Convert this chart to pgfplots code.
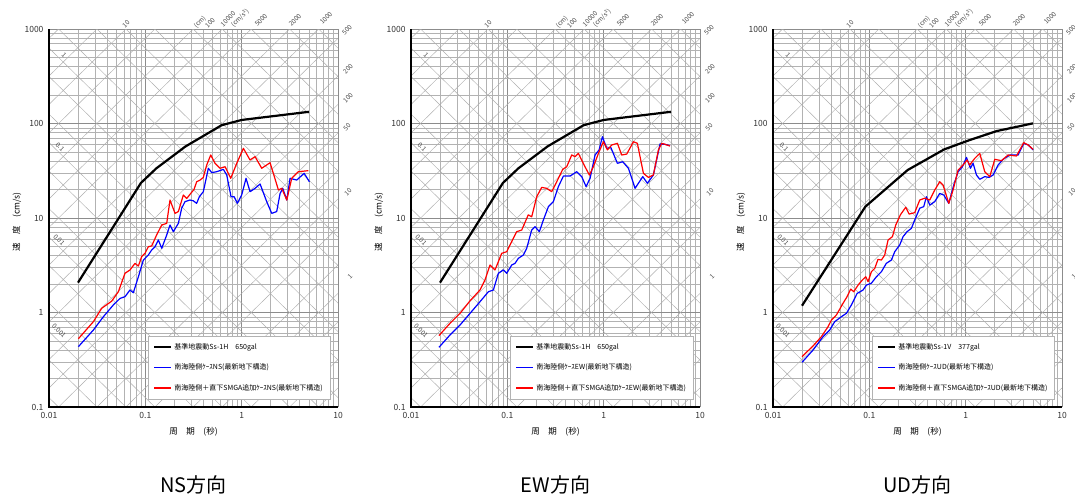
\documentclass[border=0pt]{standalone}
\usepackage{fontspec}
\setmainfont{Noto Sans CJK JP}
\usepackage{pgfplots}
\pgfplotsset{compat=1.18}

\tikzset{diagline/.style={black!32, line width=0.45pt}}

% displacement line: d = log10(2 pi D); acceleration line: a = log10(A/(2 pi))
\newcommand\dline[1]{%
 \pgfmathsetmacro\ya{((#1)+3)/4}\pgfmathsetmacro\yb{(#1)/4}%
 \edef\tmp{\noexpand\draw[diagline] (rel axis cs:0,\ya) -- (rel axis cs:1,\yb);}\tmp}
\newcommand\aline[1]{%
 \pgfmathsetmacro\ya{((#1)-1)/4}\pgfmathsetmacro\yb{((#1)+2)/4}%
 \edef\tmp{\noexpand\draw[diagline] (rel axis cs:0,\ya) -- (rel axis cs:1,\yb);}\tmp}
\newcommand\diaglines{%
 \pgfplotsforeachungrouped \k in {-4,-3,-2,-1,0,1,2,3}{%
   \dline{\k+0.79818}\dline{\k+1.09921}\dline{\k+1.49715}}%
 \pgfplotsforeachungrouped \k in {-2,-1,0,1,2,3,4,5}{%
   \aline{\k-0.79818}\aline{\k-0.49715}\aline{\k-0.09921}}%
}

\pgfplotsset{
  width=289pt,height=378pt,scale only axis,
  xmin=0.01,xmax=10,ymin=0.1,ymax=1000,
  xtick={0.01,0.1,1,10}, xticklabels={0.01,0.1,1,10},
  ytick={0.1,1,10,100,1000}, yticklabels={0.1,1,10,100,1000},
  grid=both, major grid style={black!45,line width=0.5pt},
  minor grid style={black!30,line width=0.45pt},
  tick style={draw=none},
  axis line style={draw=none},
  ticklabel style={font=\fontsize{8.5}{10}\selectfont, text=black!80},
  xticklabel style={yshift=-2pt}, yticklabel style={xshift=-2pt},
  legend cell align=left,
  legend style={at={(0.3426,0.0212)}, anchor=south west, draw=black!30, fill=white,
    font=\fontsize{7}{8}\selectfont, row sep=9pt, inner xsep=5pt, inner ysep=5pt},
}

\newcommand\legendrows[3]{%
 \addlegendimage{black, line width=2.2pt}\addlegendentry{\makebox[148pt][l]{#1}}
 \addlegendimage{blue, line width=1.4pt}\addlegendentry{#2}
 \addlegendimage{red, line width=1.4pt}\addlegendentry{#3}}

\newcommand\plabels{%
 \begin{scope}[every node/.style={font=\fontsize{6.5}{7}\selectfont, text=black!70, inner sep=0pt}]
 \node[rotate=-45] at (64pt,440pt) {1};
 \node[rotate=-45] at (60pt,348pt) {0.1};
 \node[rotate=-45] at (59pt,255pt) {0.01};
 \node[rotate=-45] at (59pt,164pt) {0.001};
 \node[rotate=45] at (126pt,471pt) {10};
 \node[rotate=45] at (200pt,473pt) {(cm)};
 \node[rotate=45] at (210pt,472pt) {100};
 \node[rotate=45] at (228pt,476pt) {10000};
 \node[rotate=45] at (240pt,477pt) {(cm/s²)};
 \node[rotate=45] at (261pt,475pt) {5000};
 \node[rotate=45] at (295pt,475pt) {2000};
 \node[rotate=45] at (326pt,477pt) {1000};
 \node[rotate=45] at (347pt,465pt) {500};
 \node[rotate=45] at (348pt,426pt) {200};
 \node[rotate=45] at (348pt,397pt) {100};
 \node[rotate=45] at (347pt,368pt) {50};
 \node[rotate=45] at (348pt,303pt) {10};
 \node[rotate=45] at (350pt,218pt) {1};
 \end{scope}
 \node[rotate=90, font=\fontsize{8.5}{10}\selectfont] at (17pt,273pt) {速　度　(cm/s)};
 \node[font=\fontsize{8.5}{10}\selectfont] at (193.5pt,63pt) {周　期　(秒)};
}

\begin{document}
\begin{tikzpicture}
\useasboundingbox (0,0) rectangle (1075pt,495pt);

% ---------------- NS ----------------
\begin{loglogaxis}[name=ax1, at={(49pt,88pt)}, anchor=south west]
\diaglines
\addplot[forget plot, color=black, line width=2.2pt, line join=round] coordinates {(0.02,2.07)(0.09,23.5)(0.13,33.5)(0.26,57)(0.62,96)(1.0,109)(5.0,133)};
\addplot[forget plot, color=blue, line width=1.2pt, line join=round] coordinates {(0.0202,0.435)(0.0289,0.653)(0.0367,0.903)(0.0465,1.20)(0.0546,1.41)(0.0615,1.47)(0.0693,1.73)(0.0751,1.62)(0.0847,2.39)(0.0954,3.59)(0.1075,4.06)(0.1164,4.59)(0.126,4.97)(0.1365,5.85)(0.148,4.78)(0.1667,6.61)(0.1804,8.43)(0.1954,7.16)(0.2203,8.78)(0.2385,12.7)(0.258,14.9)(0.291,15.5)(0.315,15.2)(0.341,14.3)(0.364,16.8)(0.40,19.0)(0.451,33.6)(0.489,30.2)(0.551,30.9)(0.646,32.7)(0.70,28.5)(0.776,16.8)(0.834,16.8)(0.903,14.3)(1.0,17.5)(1.11,26.3)(1.222,19.0)(1.377,20.6)(1.553,22.9)(1.82,14.9)(2.05,11.2)(2.31,11.7)(2.506,18.2)(2.67,20.6)(2.94,15.5)(3.18,26.3)(3.73,25.2)(4.45,29.7)(5.05,24.2)};
\addplot[forget plot, color=red, line width=1.2pt, line join=round] coordinates {(0.0202,0.528)(0.0289,0.80)(0.0352,1.107)(0.0448,1.32)(0.0525,1.66)(0.0615,2.60)(0.0693,2.82)(0.0781,3.31)(0.0847,3.10)(0.0916,3.90)(0.0993,4.23)(0.1075,4.97)(0.1164,5.06)(0.131,6.61)(0.148,8.43)(0.1667,8.78)(0.1804,15.5)(0.2034,11.2)(0.2203,11.7)(0.248,17.5)(0.269,16.1)(0.296,18.2)(0.3206,20.1)(0.341,24.2)(0.37,25.2)(0.40,26.9)(0.4337,36.4)(0.4774,46.4)(0.5295,37.9)(0.597,33.6)(0.673,34.9)(0.770,26.3)(0.889,37.9)(1.042,54.6)(1.222,41.1)(1.377,44.6)(1.615,33.6)(1.972,38.5)(2.407,19.8)(2.606,20.6)(2.94,15.5)(3.31,26.3)(3.88,30.9)(4.93,31.7)};
\legendrows{基準地震動Ss-1H　650gal}{南海陸側ｹｰｽNS(最新地下構造)}{南海陸側＋直下SMGA追加ｹｰｽNS(最新地下構造)}
\end{loglogaxis}

% ---------------- EW ----------------
\begin{loglogaxis}[name=ax2, at={(411pt,88pt)}, anchor=south west]
\diaglines
\addplot[forget plot, color=black, line width=2.2pt, line join=round] coordinates {(0.02,2.07)(0.09,23.5)(0.13,33.5)(0.26,57)(0.62,96)(1.0,109)(5.0,133)};
\addplot[forget plot, color=blue, line width=1.2pt, line join=round] coordinates {(0.0195,0.428)(0.0254,0.578)(0.0323,0.738)(0.041,0.98)(0.052,1.30)(0.0636,1.66)(0.0716,1.73)(0.0807,2.60)(0.091,2.82)(0.0985,2.60)(0.111,3.18)(0.120,3.31)(0.130,3.74)(0.1467,4.06)(0.1589,4.78)(0.179,7.46)(0.194,8.09)(0.215,7.17)(0.2367,9.53)(0.267,13.2)(0.3006,14.9)(0.339,21.5)(0.382,27.8)(0.448,27.8)(0.525,30.9)(0.5917,27.4)(0.6567,21.5)(0.7225,26.3)(0.814,46.4)(0.896,52.5)(0.970,72.6)(1.076,54.6)(1.184,56.0)(1.389,37.9)(1.577,39.4)(1.807,33.6)(2.118,20.6)(2.546,27.4)(2.844,23.3)(3.28,28.5)(3.85,60.7)(4.34,60.2)(4.89,58.2)};
\addplot[forget plot, color=red, line width=1.2pt, line join=round] coordinates {(0.0195,0.569)(0.0254,0.768)(0.0323,0.98)(0.041,1.33)(0.052,1.73)(0.0586,2.21)(0.0661,3.18)(0.0745,2.82)(0.0874,4.23)(0.0985,4.40)(0.111,5.62)(0.125,7.17)(0.141,7.46)(0.165,10.8)(0.179,10.3)(0.2018,16.8)(0.2275,21.1)(0.256,20.6)(0.289,19.0)(0.3256,24.2)(0.3757,32.7)(0.4136,34.9)(0.466,46.4)(0.5047,44.6)(0.5465,48.3)(0.626,36.4)(0.7109,28.5)(0.782,34.9)(0.882,48.3)(0.994,64.2)(1.093,52.5)(1.213,59.3)(1.389,61.7)(1.54,46.4)(1.736,47.5)(2.036,64.2)(2.239,61.7)(2.585,29.7)(2.914,26.9)(3.28,28.5)(3.70,52.5)(4.01,61.7)(4.89,57.8)};
\legendrows{基準地震動Ss-1H　650gal}{南海陸側ｹｰｽEW(最新地下構造)}{南海陸側＋直下SMGA追加ｹｰｽEW(最新地下構造)}
\end{loglogaxis}

% ---------------- UD ----------------
\begin{loglogaxis}[name=ax3, at={(773pt,88pt)}, anchor=south west]
\diaglines
\addplot[forget plot, color=black, line width=2.2pt, line join=round] coordinates {(0.02,1.18)(0.091,13.2)(0.25,32.2)(0.6,53.3)(1.1,66.8)(2.08,83)(5.0,100.4)};
\addplot[forget plot, color=blue, line width=1.2pt, line join=round] coordinates {(0.02,0.297)(0.026,0.40)(0.0331,0.555)(0.0388,0.653)(0.0437,0.80)(0.0513,0.903)(0.0578,0.98)(0.0651,1.20)(0.0746,1.59)(0.0861,1.73)(0.0932,1.95)(0.105,2.04)(0.1184,2.39)(0.1334,2.70)(0.150,3.31)(0.1694,3.59)(0.1835,4.40)(0.2067,5.18)(0.2239,6.35)(0.2465,7.17)(0.2734,7.78)(0.296,9.53)(0.3337,12.7)(0.367,13.2)(0.3914,16.8)(0.424,13.7)(0.4776,14.9)(0.538,18.2)(0.5925,17.5)(0.6677,14.3)(0.752,22.3)(0.8346,30.9)(0.926,34.9)(1.019,43.8)(1.12,33.6)(1.195,37.9)(1.294,28.5)(1.40,25.7)(1.578,27.4)(1.751,26.9)(1.927,28.5)(2.172,36.4)(2.447,41.8)(2.87,46.4)(3.50,46.4)(4.01,61.7)(4.45,59.3)(5.01,52.5)};
\addplot[forget plot, color=red, line width=1.2pt, line join=round] coordinates {(0.02,0.341)(0.026,0.442)(0.0318,0.555)(0.0373,0.708)(0.0404,0.833)(0.0455,0.941)(0.0533,1.25)(0.0587,1.47)(0.0641,1.77)(0.0689,1.66)(0.0764,1.95)(0.0847,2.21)(0.0918,2.39)(0.097,2.12)(0.105,2.70)(0.1138,2.93)(0.123,3.65)(0.1334,3.59)(0.1445,4.06)(0.1565,5.85)(0.1736,6.35)(0.188,8.43)(0.21,10.8)(0.2388,13.0)(0.2586,11.0)(0.296,11.4)(0.3337,15.5)(0.376,16.2)(0.424,15.5)(0.4776,19.8)(0.538,24.2)(0.583,22.3)(0.6677,14.3)(0.7404,19.8)(0.8346,32.2)(0.940,36.4)(1.035,41.1)(1.10,36.4)(1.243,42.8)(1.40,48.3)(1.578,30.9)(1.779,27.4)(2.005,41.8)(2.35,40.4)(2.756,46.4)(3.365,45.3)(4.01,62.7)(4.45,59.3)(5.01,53.3)};
\legendrows{基準地震動Ss-1V　377gal}{南海陸側ｹｰｽUD(最新地下構造)}{南海陸側＋直下SMGA追加ｹｰｽUD(最新地下構造)}
\end{loglogaxis}

\foreach \ax in {ax1,ax2,ax3}{
 \draw[black, line width=1.4pt] (\ax.north west) -- (\ax.south west) -- (\ax.south east);
}
\foreach \o in {0,362,724}{
 \begin{scope}[xshift=\o pt]\plabels\end{scope}
}
\node[anchor=base, font=\fontsize{20}{24}\selectfont] at (193.5pt,3pt) {NS方向};
\node[anchor=base, font=\fontsize{20}{24}\selectfont] at (555.5pt,3pt) {EW方向};
\node[anchor=base, font=\fontsize{20}{24}\selectfont] at (917.5pt,3pt) {UD方向};
\end{tikzpicture}
\end{document}
